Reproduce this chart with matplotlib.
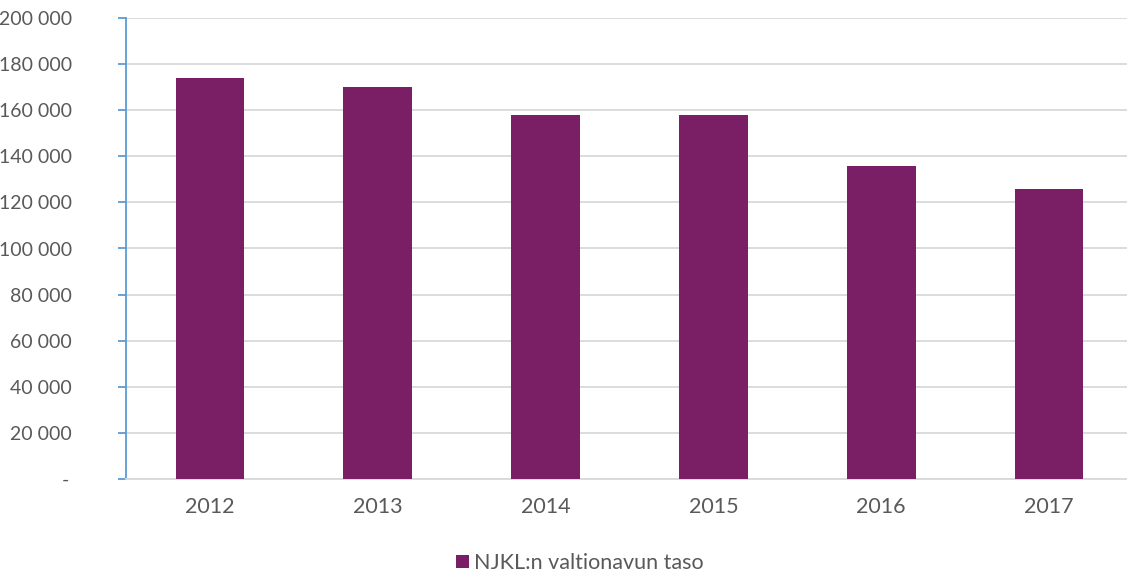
import matplotlib.pyplot as plt
from matplotlib.ticker import FuncFormatter

# Data
years = ["2012", "2013", "2014", "2015", "2016", "2017"]
values = [174000, 170000, 158000, 158000, 136000, 126000]
series_name = "NJKL:n valtionavun taso"

bar_color = "#7A1E66"
text_color = "#595959"
grid_color = "#D9D9D9"
axis_color = "#5B9BD5"

plt.rcParams["font.family"] = ["Lato", "DejaVu Sans"]

W, H = 1127, 574
fig = plt.figure(figsize=(W / 100, H / 100), dpi=100)
ax = fig.add_axes([126 / W, 1 - 479 / H, 1007 / W, 461 / H])

x = range(len(years))
ax.bar(x, values, width=0.41, color=bar_color, label=series_name, zorder=3)

ax.set_xlim(-0.5, len(years) - 0.5)
ax.set_ylim(0, 200000)
ax.set_yticks(range(0, 200001, 20000))
ax.set_xticks(list(x))
ax.set_xticklabels(years)


def fmt(v, pos):
    # zero shown as a dash, like the accounting format
    if v == 0:
        return "-\u2009"
    return f"{int(v):,}".replace(",", " ")


ax.yaxis.set_major_formatter(FuncFormatter(fmt))
ax.grid(axis="y", color=grid_color, linewidth=1.3, zorder=0)

for s in ["top", "right"]:
    ax.spines[s].set_visible(False)
ax.spines["bottom"].set_color(grid_color)
ax.spines["bottom"].set_linewidth(1.3)
ax.spines["left"].set_color(axis_color)
ax.spines["left"].set_linewidth(1.3)

ax.tick_params(axis="y", colors=axis_color, length=6, width=1.3, pad=33,
               labelcolor=text_color, labelsize=14)
ax.tick_params(axis="x", length=0, pad=13, labelcolor=text_color, labelsize=15.5)

leg = fig.legend(loc="center", bbox_to_anchor=(580 / W, 1 - 563 / H), frameon=False,
                 fontsize=15.5, handlelength=0.6, handleheight=0.6, handletextpad=0.25)
for t in leg.get_texts():
    t.set_color(text_color)

fig.savefig("out.png", dpi=100)
